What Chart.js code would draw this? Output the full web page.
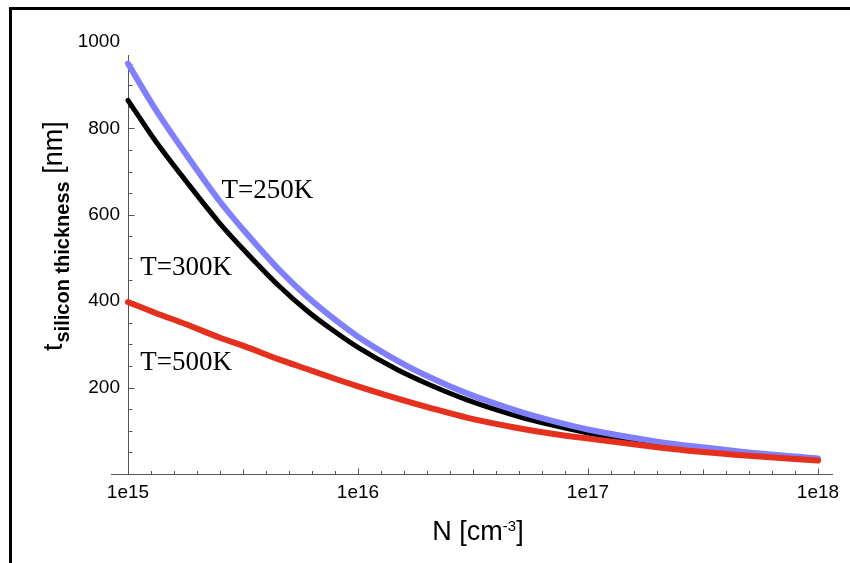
<!DOCTYPE html>
<html><head><meta charset="utf-8">
<style>
html,body{margin:0;padding:0;background:#fff;overflow:hidden}
#wrap{position:relative;width:850px;height:563px}
#frame{position:absolute;left:9px;top:7px;right:0;bottom:0;border-top:3px solid #000;border-left:3px solid #000;pointer-events:none}
</style>
<script src="https://cdn.jsdelivr.net/npm/chart.js@4.4.1/dist/chart.umd.min.js"></script>
</head><body>
<div id="wrap"><canvas id="c" width="850" height="563"></canvas><div id="frame"></div></div>
<script>
// Doping concentration N [cm^-3]
const dopingN = [1e15, 1.3e15, 1.8e15, 2.5e15, 3.2e15, 4.5e15, 6e15, 8e15, 1e16, 1.5e16, 2e16, 3e16, 5e16, 7e16, 1e17, 2e17, 3e17, 5e17, 1e18];
// silicon thickness [nm]
const t250 = [950, 849, 738, 632, 563, 475, 411, 356, 318, 261, 227, 186, 145, 123, 103, 75, 63, 50, 36];
const t300 = [865, 775, 676, 581, 518, 437, 378, 328, 293, 240, 209, 171, 133, 113, 95, 69, 58, 46, 34];
const t500 = [398, 374, 346, 316, 296, 266, 243, 220, 203, 174, 155, 130, 106, 93, 82, 62, 52, 42, 31];
const xTickValues = [1e15, 1e16, 1e17, 1e18];
const yTickValues = [200, 400, 600, 800, 1000];
const curveLabels = ['T=250K', 'T=300K', 'T=500K'];
const curveLabelN = [2.55e15, 1.13e15, 1.13e15];
const curveLabelT = [639, 460, 240];

const SANS = '"Liberation Sans", Arial, Helvetica, sans-serif';
const SERIF = '"Liberation Serif", "Times New Roman", serif';

const axesPlugin = {
  id: 'axesPlugin',
  beforeDatasetsDraw(chart) {
    const {ctx, scales: {x, y}} = chart;
    const x0 = x.getPixelForValue(x.min), x1 = x.getPixelForValue(x.max);
    const y0 = y.getPixelForValue(0), yTop = y.getPixelForValue(y.max);
    ctx.save();
    ctx.strokeStyle = '#555';
    ctx.lineWidth = 1;
    ctx.beginPath();
    const ya = Math.round(y0) + 0.5, xa = Math.round(x0) + 0.5;
    ctx.moveTo(x0 - 17, ya); ctx.lineTo(x1 + 15, ya);
    ctx.moveTo(xa, yTop); ctx.lineTo(xa, ya);
    const lx = Math.log10(x.min), hx = Math.log10(x.max);
    for (let d = lx; d <= hx; d++) {
      for (let k = 0; k < 10; k++) {
        if (d === hx && k > 0) break;
        const v = Math.pow(10, d + k / 10);
        const px = Math.round(x.getPixelForValue(v)) + 0.5;
        const len = k === 0 ? 6 : (k === 5 ? 5 : 3.5);
        ctx.moveTo(px, ya); ctx.lineTo(px, ya - len);
      }
    }
    for (let v = 50; v <= y.max; v += 50) {
      const py = Math.round(y.getPixelForValue(v)) + 0.5;
      const len = v % 200 === 0 ? 6 : 4;
      ctx.moveTo(xa, py); ctx.lineTo(xa + len, py);
    }
    ctx.stroke();
    ctx.restore();
  },
  afterDraw(chart) {
    const {ctx, scales: {x, y}} = chart;
    ctx.save();
    ctx.fillStyle = '#000';
    ctx.textBaseline = 'alphabetic';
    ctx.textAlign = 'left';
    // curve labels
    ctx.font = '27px ' + SERIF;
    curveLabels.forEach((t, i) => {
      ctx.fillText(t, x.getPixelForValue(curveLabelN[i]), y.getPixelForValue(curveLabelT[i]));
    });
    // x title: N [cm^-3]
    const bigF = '27px ' + SANS, supF = '15px ' + SANS;
    ctx.font = bigF; const wa = ctx.measureText('N [cm').width; const wc = ctx.measureText(']').width;
    ctx.font = supF; const wb = ctx.measureText('-3').width;
    const cx = (x.left + x.right) / 2 + 5;
    let sx = cx - (wa + wb + wc) / 2;
    const by = 540;
    ctx.font = bigF; ctx.fillText('N [cm', sx, by);
    ctx.font = supF; ctx.fillText('-3', sx + wa, by - 9);
    ctx.font = bigF; ctx.fillText(']', sx + wa + wb, by);
    // y title: t_{silicon thickness} [nm]
    ctx.translate(62, 351);
    ctx.rotate(-Math.PI / 2);
    ctx.font = bigF; ctx.fillText('t', 0, 0);
    const wt = ctx.measureText('t').width;
    const subF = 'bold 20px ' + SANS;
    ctx.font = subF; ctx.fillText('silicon thickness', wt + 1, 7);
    const ws = ctx.measureText('silicon thickness').width;
    ctx.font = bigF; ctx.fillText(' [nm]', wt + 1 + ws, 0);
    ctx.restore();
  }
};

const mk = arr => dopingN.map((n, i) => ({x: n, y: arr[i]}));

new Chart(document.getElementById('c'), {
  type: 'line',
  data: {
    datasets: [
      {label: 'T=500K', data: mk(t500), borderColor: '#e5301d', borderWidth: 6, order: 0, clip: false},
      {label: 'T=250K', data: mk(t250), borderColor: '#8080ff', borderWidth: 6, order: 1, clip: false},
      {label: 'T=300K', data: mk(t300), borderColor: '#000000', borderWidth: 5, order: 2, clip: false}
    ]
  },
  options: {
    responsive: false,
    animation: false,
    devicePixelRatio: 1,
    layout: {padding: {top: 55, right: 32, left: 0, bottom: 0}},
    elements: {
      point: {radius: 0, hoverRadius: 0},
      line: {borderCapStyle: 'round', borderJoinStyle: 'round', cubicInterpolationMode: 'monotone', fill: false}
    },
    plugins: {legend: {display: false}, tooltip: {enabled: false}},
    scales: {
      x: {
        type: 'logarithmic', min: 1e15, max: 1e18,
        grid: {display: false, drawTicks: false},
        border: {display: false},
        afterBuildTicks: s => { s.ticks = xTickValues.map(v => ({value: v})); },
        afterFit: s => { s.height = 89; },
        ticks: {
          padding: 7, color: '#000', maxRotation: 0, autoSkip: false,
          font: {family: SANS, size: 19},
          callback: v => '1e' + Math.round(Math.log10(v))
        }
      },
      y: {
        type: 'linear', min: 0, max: 970,
        grid: {display: false, drawTicks: false},
        border: {display: false},
        afterBuildTicks: s => { s.ticks = yTickValues.map(v => ({value: v})); },
        afterFit: s => { s.width = 128; },
        ticks: {
          padding: 8, color: '#000',
          font: {family: SANS, size: 19},
          callback: v => String(v)
        }
      }
    }
  },
  plugins: [axesPlugin]
});
</script>
</body></html>
